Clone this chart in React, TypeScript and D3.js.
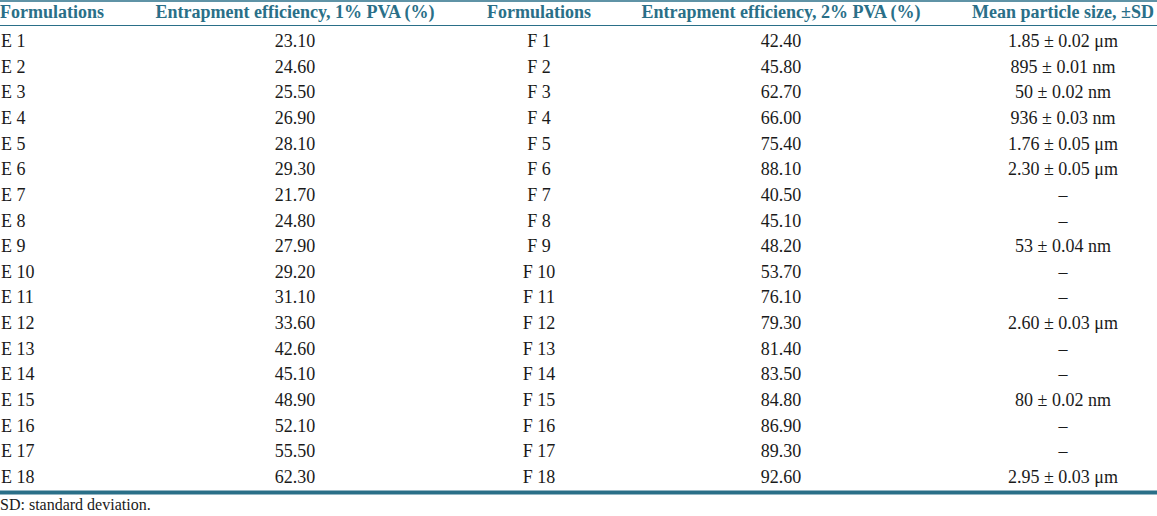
import React from "react";
import * as d3 from "d3";

const headers = [
  "Formulations",
  "Entrapment efficiency, 1% PVA (%)",
  "Formulations",
  "Entrapment efficiency, 2% PVA (%)",
  "Mean particle size, ±SD",
];
const formulationsE = ["E 1","E 2","E 3","E 4","E 5","E 6","E 7","E 8","E 9","E 10","E 11","E 12","E 13","E 14","E 15","E 16","E 17","E 18"];
const ee1 = [23.1, 24.6, 25.5, 26.9, 28.1, 29.3, 21.7, 24.8, 27.9, 29.2, 31.1, 33.6, 42.6, 45.1, 48.9, 52.1, 55.5, 62.3];
const formulationsF = ["F 1","F 2","F 3","F 4","F 5","F 6","F 7","F 8","F 9","F 10","F 11","F 12","F 13","F 14","F 15","F 16","F 17","F 18"];
const ee2 = [42.4, 45.8, 62.7, 66.0, 75.4, 88.1, 40.5, 45.1, 48.2, 53.7, 76.1, 79.3, 81.4, 83.5, 84.8, 86.9, 89.3, 92.6];
const particleSize = ["1.85 ± 0.02 μm","895 ± 0.01 nm","50 ± 0.02 nm","936 ± 0.03 nm","1.76 ± 0.05 μm","2.30 ± 0.05 μm","–","–","53 ± 0.04 nm","–","–","2.60 ± 0.03 μm","–","–","80 ± 0.02 nm","–","–","2.95 ± 0.03 μm"];
const footnote = "SD: standard deviation.";

const W = 1157, H = 516;
const teal = "#2a6f88";
const font = "'Liberation Serif', 'Times New Roman', serif";

export default function App() {
  const y = d3.scaleLinear().domain([0, formulationsE.length - 1]).range([47, 483]);
  const colX = [1, 295, 539, 781, 1063];
  const anchors = ["start", "middle", "middle", "middle", "middle"];
  const fmt = d3.format(".2f");
  const cols = [formulationsE, ee1.map(fmt), formulationsF, ee2.map(fmt), particleSize];
  return (
    <svg width={W} height={H} style={{ position: "absolute", left: 0, top: 0, background: "#fff" }} fontFamily={font}>
      <line x1={0} x2={W} y1={1} y2={1} stroke={teal} strokeWidth={1.5} />
      {headers.map((h, i) => (
        <text key={i} x={i === 0 ? 0 : colX[i]} y={18} textAnchor={i === 0 ? "start" : "middle"} fontSize={18} fontWeight="bold" fill={teal}>{h}</text>
      ))}
      <line x1={0} x2={W} y1={25.5} y2={25.5} stroke={teal} strokeWidth={1} />
      {cols.map((col, ci) =>
        col.map((v, ri) => (
          <text key={ci + "-" + ri} x={colX[ci]} y={y(ri)} textAnchor={anchors[ci]} fontSize={18} fill="#1a1a1a">{v}</text>
        ))
      )}
      <line x1={0} x2={W} y1={492.5} y2={492.5} stroke={teal} strokeWidth={4} />
      <text x={0} y={510} fontSize={16} fill="#1a1a1a">{footnote}</text>
    </svg>
  );
}
